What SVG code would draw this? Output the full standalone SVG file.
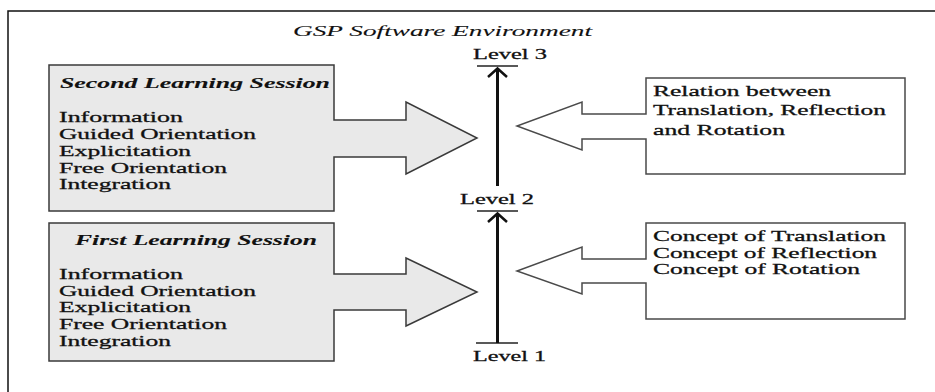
<svg xmlns="http://www.w3.org/2000/svg" width="935" height="392" viewBox="0 0 935 392">
<defs>
<style>
text{font-family:"Liberation Serif","Times New Roman",serif;font-size:15.5px;fill:#111;stroke:#111;stroke-width:0.3;}
.ttl{font-style:italic;stroke-width:0.1;}
.hd{font-style:italic;font-weight:bold;stroke-width:0.1;}
.sess{fill:#e9e9e9;stroke:#3a3a3a;stroke-width:1.5;}
.cont{fill:#fff;stroke:#4a4a4a;stroke-width:1.5;}
.axis{stroke:#111;stroke-width:3;fill:none;}
.tick{stroke:#222;stroke-width:1.5;}
.head{stroke:#111;stroke-width:2.5;fill:none;stroke-linejoin:miter;}
</style>
</defs>
<rect width="935" height="392" fill="#fff"/>
<g id="frame">
<path d="M8,392 V11 H935" fill="none" stroke="#111" stroke-width="1.5"/>
<text class="ttl" x="293" y="36" textLength="299" lengthAdjust="spacingAndGlyphs">GSP Software Environment</text>
</g>
<g id="second-session">
<path class="sess" d="M49,65 H334 V120 H406 V102 L477,138 L406,174 V157 H334 V211 H49 Z"/>
<text class="hd" x="60" y="88" textLength="270" lengthAdjust="spacingAndGlyphs">Second Learning Session</text>
<text x="59" y="122" textLength="124" lengthAdjust="spacingAndGlyphs">Information</text>
<text x="59" y="138.5" textLength="197" lengthAdjust="spacingAndGlyphs">Guided Orientation</text>
<text x="59" y="155.5" textLength="132" lengthAdjust="spacingAndGlyphs">Explicitation</text>
<text x="59" y="172.5" textLength="168" lengthAdjust="spacingAndGlyphs">Free Orientation</text>
<text x="59" y="189" textLength="112" lengthAdjust="spacingAndGlyphs">Integration</text>
</g>
<g id="first-session">
<path class="sess" d="M49,223 H334 V274 H406 V258 L477,292 L406,326 V310 H334 V361 H49 Z"/>
<text class="hd" x="75" y="245" textLength="242" lengthAdjust="spacingAndGlyphs">First Learning Session</text>
<text x="59" y="278.5" textLength="124" lengthAdjust="spacingAndGlyphs">Information</text>
<text x="59" y="295.5" textLength="197" lengthAdjust="spacingAndGlyphs">Guided Orientation</text>
<text x="59" y="312" textLength="132" lengthAdjust="spacingAndGlyphs">Explicitation</text>
<text x="59" y="328.5" textLength="168" lengthAdjust="spacingAndGlyphs">Free Orientation</text>
<text x="59" y="345.5" textLength="112" lengthAdjust="spacingAndGlyphs">Integration</text>
</g>
<g id="relation">
<path class="cont" d="M905,78 H646 V114 H582 V102 L517,126 L582,150 V139 H646 V174 H905 Z"/>
<text x="653" y="96" textLength="178" lengthAdjust="spacingAndGlyphs">Relation between</text>
<text x="653" y="115" textLength="233" lengthAdjust="spacingAndGlyphs">Translation, Reflection</text>
<text x="653" y="134.5" textLength="132" lengthAdjust="spacingAndGlyphs">and Rotation</text>
</g>
<g id="concepts">
<path class="cont" d="M905,223 H646 V259 H582 V247 L517,271 L582,294 V283 H646 V319 H905 Z"/>
<text x="653" y="241" textLength="233" lengthAdjust="spacingAndGlyphs">Concept of Translation</text>
<text x="653" y="257.5" textLength="224" lengthAdjust="spacingAndGlyphs">Concept of Reflection</text>
<text x="653" y="274" textLength="207" lengthAdjust="spacingAndGlyphs">Concept of Rotation</text>
</g>
<g id="levels">
<text x="473" y="58.5" textLength="74" lengthAdjust="spacingAndGlyphs">Level 3</text>
<line class="tick" x1="477" y1="66" x2="518" y2="66"/>
<text x="460" y="203.5" textLength="74" lengthAdjust="spacingAndGlyphs">Level 2</text>
<line class="tick" x1="477" y1="211" x2="518" y2="211"/>
<line class="tick" x1="476" y1="343" x2="518" y2="343"/>
<text x="473" y="361" textLength="73" lengthAdjust="spacingAndGlyphs">Level 1</text>
</g>
<g id="connectors">
<line class="axis" x1="497.5" y1="68" x2="497.5" y2="186"/>
<polyline class="head" points="488,77 497.5,68.5 507,77"/>
<line class="axis" x1="497.5" y1="213" x2="497.5" y2="343"/>
<polyline class="head" points="488,222 497.5,213.5 507,222"/>
</g>
</svg>
